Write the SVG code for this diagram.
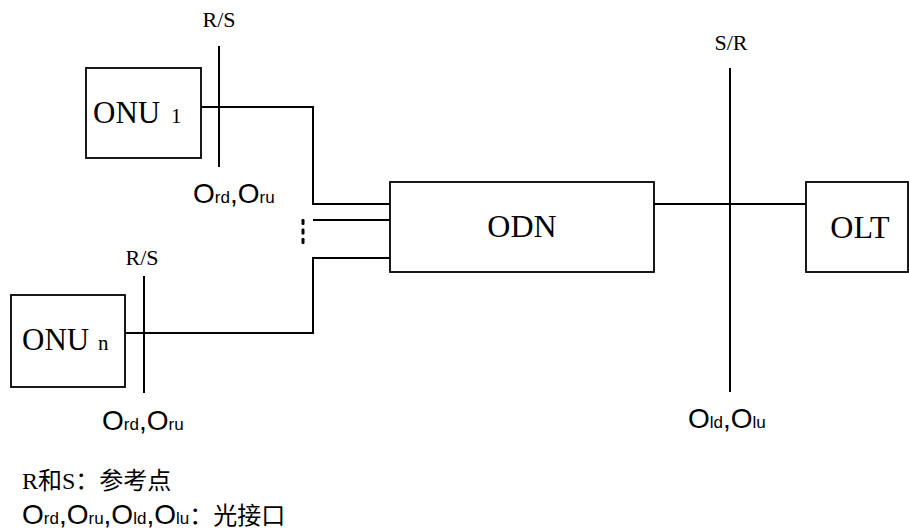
<svg xmlns="http://www.w3.org/2000/svg" width="909" height="531" viewBox="0 0 909 531">
<style>
.box{fill:#fff;stroke:#000;stroke-width:1.8}
.ln{fill:none;stroke:#000;stroke-width:2}
.serif{font-family:"Liberation Serif","Times New Roman",serif;fill:#000}
.sans{font-family:"Liberation Sans",Arial,sans-serif;fill:#000}
.cjk{font-family:"Liberation Serif","Noto Sans CJK SC",serif;fill:#000}
</style>
<rect width="909" height="531" fill="#fff"/>
<g id="connectors">
<polyline class="ln" points="201,107 313,107 313,204 390,204"/>
<line class="ln" x1="313" y1="220" x2="390" y2="220"/>
<polyline class="ln" points="125,333 313,333 313,258 390,258"/>
<line class="ln" x1="654" y1="204" x2="806" y2="204"/>
<line class="ln" x1="219" y1="46" x2="219" y2="167"/>
<line class="ln" x1="144" y1="276" x2="144" y2="393"/>
<line class="ln" x1="730" y1="68" x2="730" y2="392"/>
<rect x="301.5" y="219" width="3" height="6" rx="1.2"/>
<rect x="301.5" y="228.5" width="3" height="6" rx="1.2"/>
<rect x="301.5" y="238" width="3" height="6" rx="1.2"/>
</g>
<g id="onu1">
<rect class="box" x="86" y="68" width="115" height="90"/>
<text class="serif" x="93" y="123"><tspan font-size="31">ONU</tspan><tspan x="171" font-size="21">1</tspan></text>
</g>
<g id="onun">
<rect class="box" x="11" y="295" width="114" height="92"/>
<text class="serif" x="22" y="350"><tspan font-size="31">ONU</tspan><tspan x="98" font-size="21">n</tspan></text>
</g>
<g id="odn">
<rect class="box" x="390" y="182" width="264" height="90"/>
<text class="serif" x="522" y="237" font-size="32" text-anchor="middle">ODN</text>
</g>
<g id="olt">
<rect class="box" x="806" y="182" width="102" height="90"/>
<text class="serif" x="860" y="238" font-size="32" text-anchor="middle">OLT</text>
</g>
<g id="labels">
<text class="serif" x="219" y="27" font-size="22" text-anchor="middle">R/S</text>
<text class="serif" x="142" y="265" font-size="22" text-anchor="middle">R/S</text>
<text class="serif" x="731" y="50" font-size="22" text-anchor="middle">S/R</text>
<text class="sans" x="193" y="203" font-size="28">O<tspan font-size="17">rd</tspan>,O<tspan font-size="17">ru</tspan></text>
<text class="sans" x="102" y="430" font-size="28">O<tspan font-size="17">rd</tspan>,O<tspan font-size="17">ru</tspan></text>
<text class="sans" x="688" y="428" font-size="28">O<tspan font-size="17">ld</tspan>,O<tspan font-size="17">lu</tspan></text>
</g>
<g id="legend">
<text class="cjk" x="22" y="489" font-size="24">R和S：参考点</text>
<text x="22" y="524" font-size="28"><tspan class="sans">O<tspan font-size="17">rd</tspan>,O<tspan font-size="17">ru</tspan>,O<tspan font-size="17">ld</tspan>,O<tspan font-size="17">lu</tspan></tspan><tspan class="cjk" font-size="24">：光接口</tspan></text>
</g>
</svg>
